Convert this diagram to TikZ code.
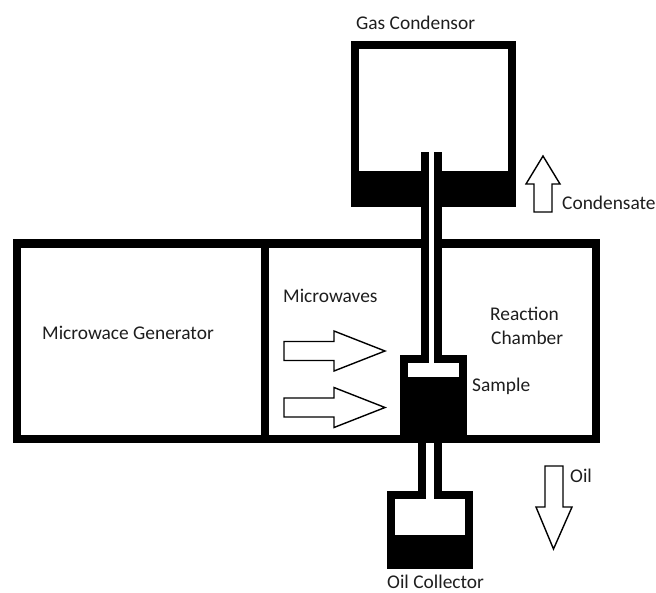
\documentclass[tikz,border=0pt]{standalone}
\usepackage{fontspec}
\setmainfont{Carlito}
\usepackage{xcolor}
\definecolor{inktext}{RGB}{30,30,30}
\usetikzlibrary{positioning}

\begin{document}
\begin{tikzpicture}[
  x=1pt, y=-1pt,
  vessel/.style={fill=black, draw=none},
  cavity/.style={fill=white, draw=none},
  flowarrow/.style={draw=black, fill=white, line width=1.4pt, line join=miter},
  lab/.style={font=\fontsize{19.4}{22}\selectfont\color{inktext}, inner sep=0pt, anchor=base west}
]
\useasboundingbox (0,0) rectangle (656,592);

% condenser
\fill[vessel] (351,41) rectangle (516,207);
\fill[cavity] (359,49) rectangle (508,171);

% main housing
\fill[vessel] (13,239) rectangle (600,443);
\fill[cavity] (21,248) rectangle (261,435);
\fill[cavity] (269,248) rectangle (592,435);

% sample holder
\fill[vessel] (400,355) rectangle (467,437);
\fill[cavity] (408,363) rectangle (459,377);

% tube through the top
\fill[vessel] (421,152) rectangle (442,363);
\fill[cavity] (429,152) rectangle (434,377);

% oil collector
\fill[vessel] (387,491) rectangle (473,569);
\fill[cavity] (395,499) rectangle (465,535);
\fill[vessel] (418,443) rectangle (442,491);
\fill[cavity] (426,443) rectangle (434,499);

% flow arrows
\foreach \ya in {351,407.5}
  \draw[flowarrow] (284,\ya-9.5) -- (334,\ya-9.5) -- (334,\ya-20) -- (385,\ya)
    -- (334,\ya+20) -- (334,\ya+9.5) -- (284,\ya+9.5) -- cycle;
\draw[flowarrow] (545,466) -- (563,466) -- (563,507) -- (572,507) -- (553.5,549)
  -- (536,507) -- (545,507) -- cycle;
\draw[flowarrow] (534,212) -- (552,212) -- (552,184) -- (560,184) -- (543,156)
  -- (526,184) -- (534,184) -- cycle;

% labels
\node[lab] (gas) at (356,29) {Gas Condensor};
\node[lab] (cond) at (562,209.5) {Condensate};
\node[lab] (gen) at (42,339.5) {Microwace Generator};
\node[lab] (waves) at (283,302) {Microwaves};
\node[lab] (react) at (490,320) {Reaction};
\node[lab] (chamber) at (491,344) {Chamber};
\node[lab] (sample) at (472,391) {Sample};
\node[lab] (oil) at (570,482) {Oil};
\node[lab] (collect) at (387,588.5) {Oil Collector};
\end{tikzpicture}
\end{document}
